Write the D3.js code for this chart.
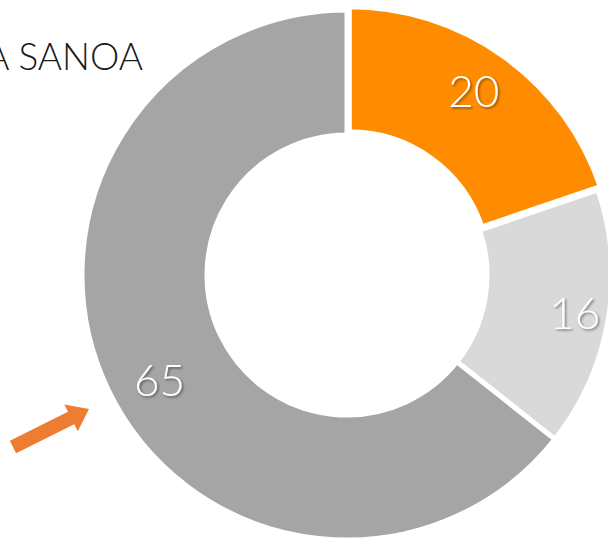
<!DOCTYPE html>
<html>
<head>
<meta charset="utf-8">
<script src="https://cdn.jsdelivr.net/npm/d3@7"></script>
<style>
  html, body { margin: 0; padding: 0; background: #fff; overflow: hidden; }
  svg { display: block; }
</style>
</head>
<body>
<div id="chart"></div>
<script>
// chart data
var categories = ["A", "B", "C"];
var values = [20, 16, 65];
var colours = ["#FF8C00", "#D9D9D9", "#A5A5A5"];
var exploded = [true, false, false];
var titleText = "A SANOA";

var width = 608, height = 539;
var cx = 347, cy = 275;
var outerR = 265, innerR = 140, labelR = 226;
// small per-slice label nudges (layout only)
var labelNudge = [[-5, 0], [5, 0], [16, 7]];

var svg = d3.select("#chart").append("svg")
  .attr("width", width)
  .attr("height", height);

var defs = svg.append("defs");
var shadow = defs.append("filter")
  .attr("id", "txtShadow")
  .attr("x", "-20%").attr("y", "-20%")
  .attr("width", "140%").attr("height", "140%");
shadow.append("feDropShadow")
  .attr("dx", 1.5).attr("dy", 1.5)
  .attr("stdDeviation", 1)
  .attr("flood-color", "#000")
  .attr("flood-opacity", 0.45);

var pie = d3.pie().sort(null).value(function(d) { return d; });
var arcs = pie(values);

var arc = d3.arc().innerRadius(innerR).outerRadius(outerR);
var labelArc = d3.arc().innerRadius(labelR).outerRadius(labelR);

var g = svg.append("g").attr("transform", "translate(" + cx + "," + cy + ")");

//slices
g.selectAll("path.slice")
  .data(arcs)
  .enter().append("path")
  .attr("class", "slice")
  .attr("d", arc)
  .attr("fill", function(d, i) { return colours[i]; })
  .attr("stroke", "#fff")
  .attr("stroke-width", 5)
  .attr("stroke-linejoin", "miter")
  .attr("transform", function(d, i) {
    if (!exploded[i]) return null;
    var a = (d.startAngle + d.endAngle) / 2;
    var off = 4;
    return "translate(" + (Math.sin(a) * off) + "," + (-Math.cos(a) * off) + ")";
  });

// value labels
g.selectAll("text.lbl")
  .data(arcs)
  .enter().append("text")
  .attr("class", "lbl")
  .attr("transform", function(d, i) {
    var c = labelArc.centroid(d);
    return "translate(" + (c[0] + labelNudge[i][0]) + "," + (c[1] + labelNudge[i][1]) + ")";
  })
  .attr("text-anchor", "middle")
  .attr("dy", "0.36em")
  .attr("fill", "#fff")
  .attr("filter", "url(#txtShadow)")
  .style("font-family", "Lato, 'Open Sans', sans-serif")
  .style("font-weight", 300)
  .style("font-size", "44px")
  .text(function(d) { return d.data; });

// title fragment top left (cut at the edge as in the original)
svg.append("text")
  .attr("x", 143)
  .attr("y", 70)
  .attr("text-anchor", "end")
  .attr("fill", "#1a1a1a")
  .style("font-family", "Lato, 'Open Sans', sans-serif")
  .style("font-weight", 300)
  .style("font-size", "37px")
  .text(titleText);

// orange arrow pointing at the big slice
var tail = [13, 447], tip = [89, 409];
var ang = Math.atan2(tip[1] - tail[1], tip[0] - tail[0]);
var len = Math.hypot(tip[0] - tail[0], tip[1] - tail[1]);
var shaftW = 7, headW = 15, headL = 20;
var pts = [
  [0, -shaftW], [len - headL, -shaftW], [len - headL, -headW],
  [len, 0],
  [len - headL, headW], [len - headL, shaftW], [0, shaftW]
];
svg.append("polygon")
  .attr("points", pts.map(function(p) { return p.join(","); }).join(" "))
  .attr("fill", "#ED7D31")
  .attr("transform", "translate(" + tail[0] + "," + tail[1] + ") rotate(" + (ang * 180 / Math.PI) + ")");
</script>
</body>
</html>
